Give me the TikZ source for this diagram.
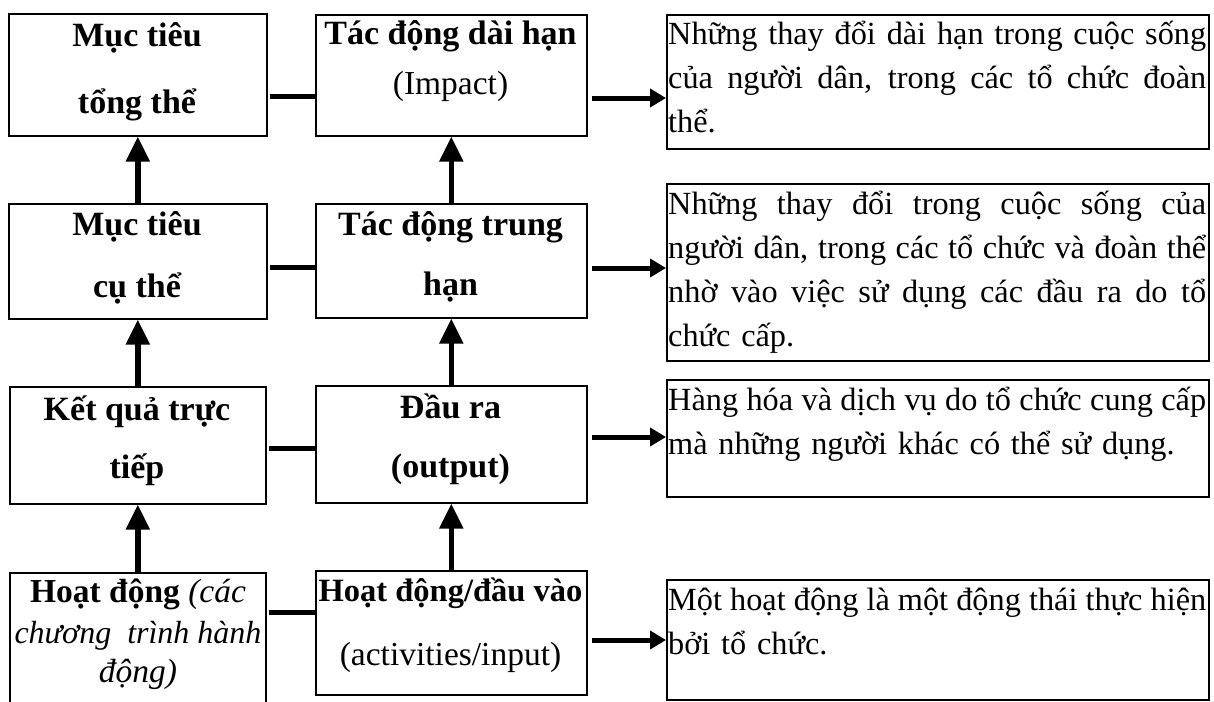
\documentclass[tikz,border=0pt]{standalone}
\usepackage{fontspec}
\setmainfont{Liberation Serif}
\usetikzlibrary{arrows.meta}
\hbadness=10000
\hfuzz=20pt

% one fully justified line of the description boxes (stretchable spaces)
\newcommand\jline[1]{\makebox[538pt][s]{\spaceskip=0pt\xspaceskip=0pt #1}}

\begin{document}
\begin{tikzpicture}[x=1pt,y=-1pt,
  box/.style={draw=black, line width=1.6pt, inner sep=0pt, anchor=north west},
  lbl/.style={anchor=base, inner sep=0pt, font=\fontsize{34}{40}\selectfont\bfseries},
  lblr/.style={anchor=base, inner sep=0pt, font=\fontsize{33.5}{40}\selectfont},
  rtext/.style={anchor=north west, inner sep=0pt, text width=538pt, align=left,
    font=\fontsize{32.3}{44}\selectfont},
  link/.style={line width=5pt},
  rarrow/.style={line width=5pt, -{Triangle[length=16pt,width=18pt]}, shorten <=4pt},
  uparrow/.style={line width=5.5pt, -{Triangle[length=25pt,width=23pt]}},
]
\useasboundingbox (0,0) rectangle (1214,701);

% left column
\node[box, minimum width=258pt, minimum height=122pt] (l1) at (8,13) {};
\node[box, minimum width=258pt, minimum height=115pt] (l2) at (8,203) {};
\node[box, minimum width=256pt, minimum height=117pt] (l3) at (9,386) {};
\node[box, minimum width=256pt, minimum height=140pt] (l4) at (9,572) {};

% middle column
\node[box, minimum width=271pt, minimum height=121pt] (m1) at (315,14) {};
\node[box, minimum width=271pt, minimum height=114pt] (m2) at (315,203) {};
\node[box, minimum width=271pt, minimum height=117pt] (m3) at (315,385) {};
\node[box, minimum width=271pt, minimum height=124pt] (m4) at (315,570) {};

% right column
\node[box, minimum width=542pt, minimum height=134pt] (r1) at (666,14) {};
\node[box, minimum width=542pt, minimum height=177pt] (r2) at (666,183) {};
\node[box, minimum width=542pt, minimum height=117pt] (r3) at (666,379) {};
\node[box, minimum width=542pt, minimum height=120pt] (r4) at (666,579) {};

% labels of the left column
\node[lbl] (l1a) at (137,47) {Mục tiêu};
\node[lbl] (l1b) at (137,113) {tổng thể};
\node[lbl] (l2a) at (137,235) {Mục tiêu};
\node[lbl] (l2b) at (137,297) {cụ thể};
\node[lbl] (l3a) at (137,420) {Kết quả trực};
\node[lbl] (l3b) at (137,478) {tiếp};
\node[lblr] (l4a) at (138,602) {\textbf{Hoạt động} \textit{(các}};
\node[lblr, font=\fontsize{32}{40}\selectfont] (l4b) at (138,643) {\textit{chương\ \ trình hành}};
\node[lblr] (l4c) at (138,682) {\textit{động)}};

% labels of the middle column
\node[lbl] (m1a) at (450.5,45) {Tác động dài hạn};
\node[lblr] (m1b) at (450.5,94) {(Impact)};
\node[lbl] (m2a) at (450.5,235) {Tác động trung};
\node[lbl] (m2b) at (450.5,295) {hạn};
\node[lbl] (m3a) at (450.5,418) {Đầu ra};
\node[lbl] (m3b) at (450.5,477) {(output)};
\node[lbl, font=\fontsize{32.5}{40}\selectfont\bfseries] (m4a) at (450.5,601) {Hoạt động/đầu vào};
\node[lblr] (m4b) at (450.5,665) {(activities/input)};

% descriptions
\node[rtext] (t1) at ([xshift=2pt]r1.north west) {\strut\jline{Những thay đổi dài hạn trong cuộc sống}\\
  \jline{của người dân, trong các tổ chức đoàn}\\ thể.};
\node[rtext] (t2) at ([xshift=2pt]r2.north west) {\strut\jline{Những thay đổi trong cuộc sống của}\\
  \jline{người dân, trong các tổ chức và đoàn thể}\\
  \jline{nhờ vào việc sử dụng các đầu ra do tổ}\\ chức cấp.};
\node[rtext] (t3) at ([xshift=2pt]r3.north west) {\strut\jline{Hàng hóa và dịch vụ do tổ chức cung cấp}\\
  mà những người khác có thể sử dụng.};
\node[rtext] (t4) at ([xshift=2pt]r4.north west) {\strut\jline{Một hoạt động là một động thái thực hiện}\\
  bởi tổ chức.};

% heights of the horizontal links and arrows
\coordinate (c1) at (0,96);
\coordinate (c2) at (0,267);
\coordinate (c3) at (0,448);
\coordinate (c4) at (0,612);
\coordinate (a1) at (0,98);
\coordinate (a2) at (0,268);
\coordinate (a3) at (0,437);
\coordinate (a4) at (0,640);

% links between left and middle columns
\draw[link, shorten <=2pt] (l1.east |- c1) -- (m1.west |- c1);
\draw[link, shorten <=2pt] (l2.east |- c2) -- (m2.west |- c2);
\draw[link, shorten <=2pt] (l3.east |- c3) -- (m3.west |- c3);
\draw[link, shorten <=2pt] (l4.east |- c4) -- (m4.west |- c4);

% arrows to the descriptions
\draw[rarrow] (m1.east |- a1) -- (r1.west |- a1);
\draw[rarrow] (m2.east |- a2) -- (r2.west |- a2);
\draw[rarrow] (m3.east |- a3) -- (r3.west |- a3);
\draw[rarrow] (m4.east |- a4) -- (r4.west |- a4);

% upward arrows
\draw[uparrow] (l2.north) -- (l1.south);
\draw[uparrow] (l3.north) -- (l2.south);
\draw[uparrow] (l4.north) -- (l3.south);
\draw[uparrow] (m2.north) -- (m1.south);
\draw[uparrow] (m3.north) -- (m2.south);
\draw[uparrow] (m4.north) -- (m3.south);
\end{tikzpicture}
\end{document}
